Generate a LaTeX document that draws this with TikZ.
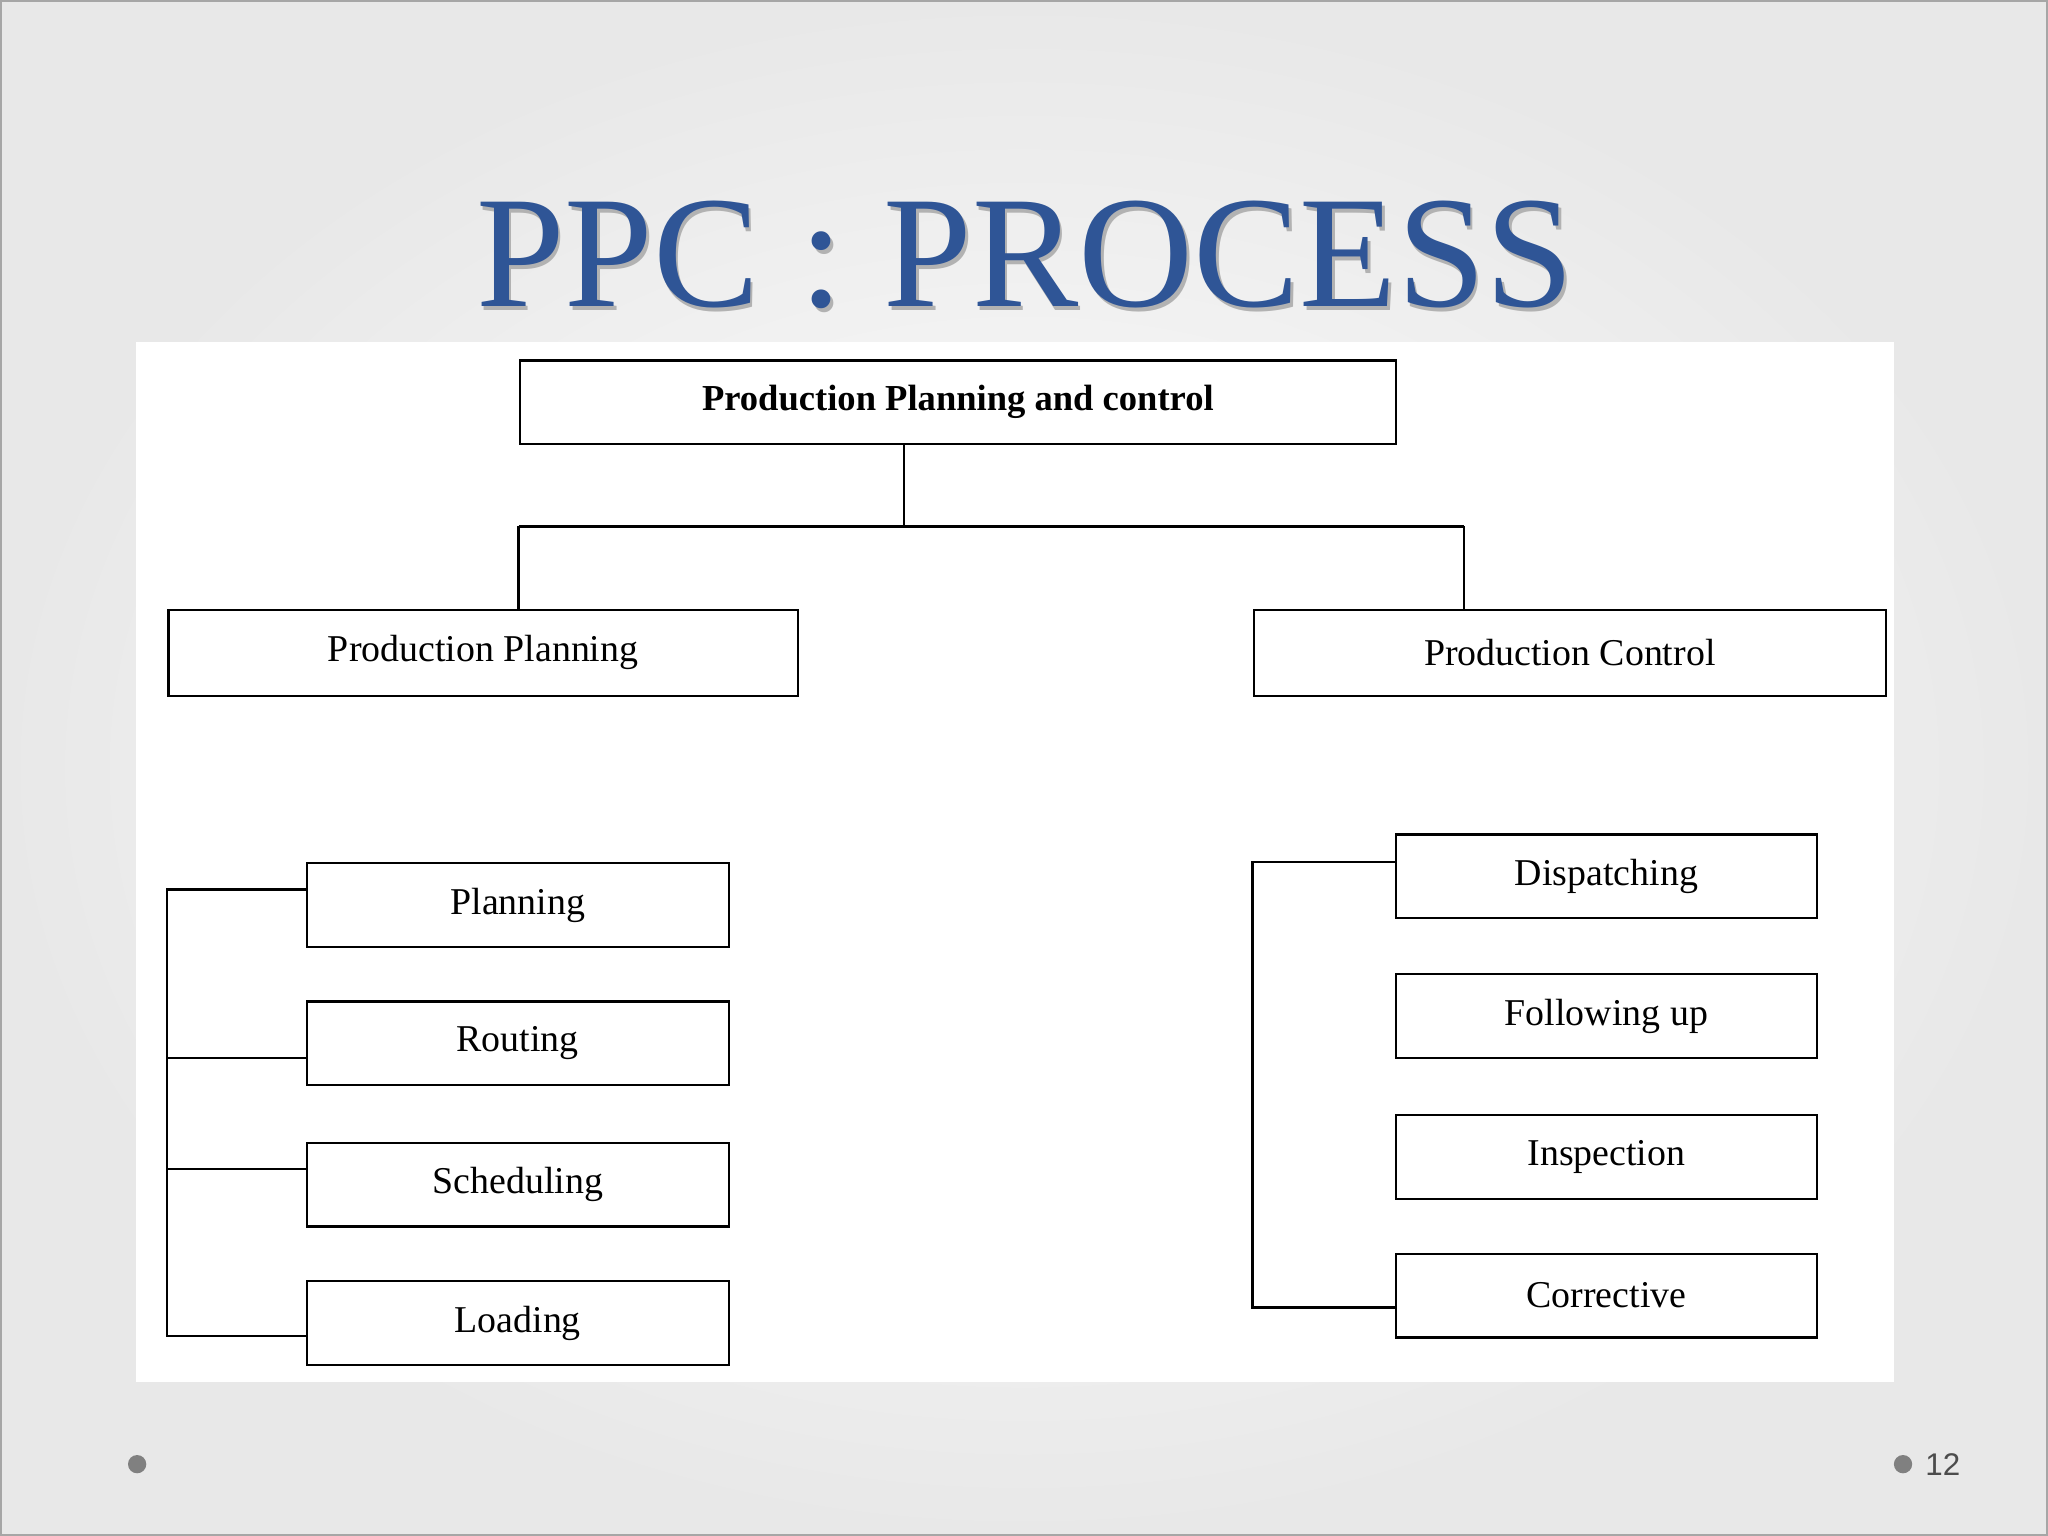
\documentclass[tikz,border=0pt]{standalone}
\usepackage{fontspec}
\setmainfont{Liberation Serif}
\newfontfamily\sansf{Liberation Sans}
\definecolor{titleblue}{HTML}{2F5596}
\begin{document}
\begin{tikzpicture}[x=0.5pt,y=-0.5pt,
  bx/.style={draw,line width=0.9pt,minimum height=32pt,anchor=north west,inner sep=0pt,font=\fontsize{14.5}{17}\selectfont},
  ln/.style={line width=0.9pt}]
\useasboundingbox (0,0) rectangle (1568,1176);
\shade[inner color=white,outer color=gray!18] (0,0) rectangle (1568,1176);
\draw[gray!70,line width=1pt] (0.5,0.5) rectangle (1567.5,1175.5);
\fill[white] (104,262) rectangle (1450,1058);
\node[text=black!30,font=\fontsize{61}{64}\selectfont] at (787,198) {PPC : PROCESS};
\node (title) [text=titleblue,font=\fontsize{61}{64}\selectfont] at (785,195) {PPC : PROCESS};
\node (top) [bx,minimum width=335.5pt,font=\fontsize{14}{16}\selectfont\bfseries] at (397,275) {Production Planning and control};
\node (pp) [bx,minimum width=241pt,minimum height=33pt] at (128,466) {Production Planning};
\node (pc) [bx,minimum width=242pt,minimum height=33pt] at (959,466) {Production Control};
\coordinate (j) at (692,403);
\draw[ln] (top.south -| j) -- (j) (397,403) -- (1121,403);
\draw[ln] (397,403) -- (397,466) (1121,403) -- (1121,466);
\foreach \n/\t/\y in {a/Planning/660,b/Routing/766,c/Scheduling/874,d/Loading/980}
  \node (\n) [bx,minimum width=161.5pt] at (234,\y) {\t};
\draw[ln] (a.west|-0,681) -- (128,681) -- (128,1023) -- (d.west|-0,1023);
\draw[ln] (128,810) -- (b.west|-0,810) (128,895) -- (c.west|-0,895);
\foreach \n/\t/\y in {e/Dispatching/638,f/Following up/745,g/Inspection/853,h/Corrective/959}
  \node (\n) [bx,minimum width=161pt] at (1068,\y) {\t};
\draw[ln] (e.west|-0,660) -- (959,660) -- (959,1001) -- (h.west|-0,1001);
\fill[gray] (105,1121) circle (7);
\fill[gray] (1457,1121) circle (7);
\node (pg) [font=\sansf\fontsize{12}{14}\selectfont,text=black!70,anchor=west] at (1467,1121) {12};
\end{tikzpicture}
\end{document}
